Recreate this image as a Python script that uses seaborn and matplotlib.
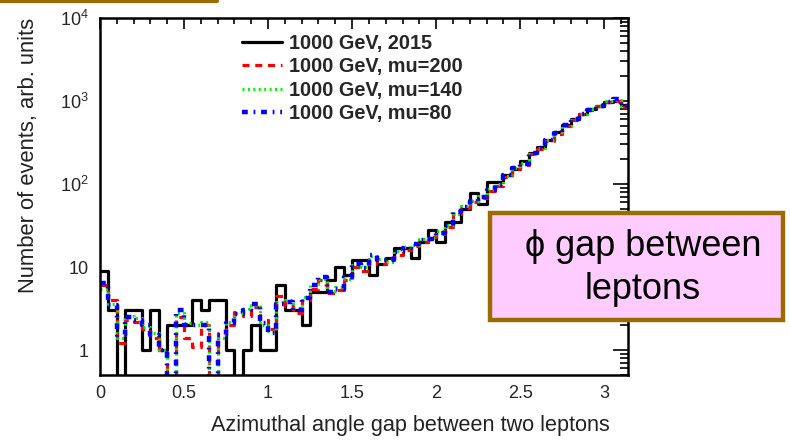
import numpy as np
import pandas as pd
import seaborn as sns
import matplotlib.pyplot as plt
from matplotlib.lines import Line2D
from matplotlib.patches import Rectangle
from matplotlib.ticker import FixedLocator, FixedFormatter, LogLocator, NullFormatter, MultipleLocator

# Histogram binning: 0.05 rad bins, axis shown up to pi
bin_edges = [round(0.05 * i, 2) for i in range(64)]
bin_centers = np.array(bin_edges[:-1]) + 0.025

# Event counts per bin (arb. units)
events_2015 = [9, 3, 0, 3, 3, 1, 3, 1, 2, 2,
               2, 4, 3, 4, 4, 1, 0, 1, 2, 1,
               1, 6, 3, 3, 2, 5, 5, 7, 10, 8,
               12, 12, 8, 11, 13, 17, 17, 13, 20, 28,
               20, 35, 35, 50, 77, 58, 107, 107, 130, 150,
               190, 235, 280, 340, 420, 520, 600, 700, 800, 880,
               960, 1000, 900]

events_mu200 = [6, 4, 1.2, 2.3, 2.2, 1.8, 1.4, 1.0, 0, 2.5,
                1.4, 1.1, 2.0, 0, 1.6, 2.0, 2.9, 2.6, 3.3, 2.3,
                1.8, 4.5, 3.4, 2.8, 4.0, 5.5, 7.0, 4.8, 5.3, 7.0,
                10, 9, 12.5, 11, 12.5, 14, 16, 18, 20, 23,
                25, 30, 43, 51, 60, 68, 82, 94, 122, 150,
                170, 230, 262, 330, 400, 495, 590, 690, 780, 860,
                960, 1000, 840]

events_mu140 = [5.5, 3.6, 1.4, 2.6, 2.4, 1.9, 1.6, 1.0, 0, 2.8,
                2.1, 2.0, 2.2, 0, 1.4, 2.2, 2.8, 3.1, 3.5, 2.0,
                1.7, 3.8, 4.0, 3.2, 4.4, 6.2, 7.2, 5.2, 5.8, 7.2,
                10.5, 10, 13.5, 12.5, 11.5, 15.5, 17.5, 18.5, 21.5, 22.5,
                27, 32, 44, 55, 63, 72, 87, 99, 125, 157,
                178, 232, 275, 335, 420, 505, 610, 705, 795, 870,
                990, 1030, 870]

events_mu80 = [6.5, 3.5, 1.5, 2.5, 2.3, 2.0, 1.5, 1.0, 0, 3.0,
               2.0, 2.0, 2.0, 0, 1.5, 2.1, 2.7, 3.0, 3.6, 2.1,
               1.6, 3.6, 3.8, 3.0, 4.2, 6.0, 7.5, 5.0, 5.5, 7.6,
               11, 9.6, 14, 12, 12, 15, 17, 19, 21, 22,
               26, 31, 46, 53, 62, 70, 85, 97, 128, 154,
               175, 238, 270, 340, 415, 510, 600, 700, 790, 880,
               980, 1050, 880]

series_labels = ["1000 GeV, 2015", "1000 GeV, mu=200", "1000 GeV, mu=140", "1000 GeV, mu=80"]
series_values = [events_2015, events_mu200, events_mu140, events_mu80]

x_ticks = [0, 0.5, 1, 1.5, 2, 2.5, 3]
x_ticklabels = ["0", "0.5", "1", "1.5", "2", "2.5", "3"]
y_ticks = [1, 10, 100, 1000, 10000]
y_ticklabels = ["1", "10", "$10^2$", "$10^3$", "$10^4$"]

styles = [
    dict(color="black", linestyle="-", linewidth=2.3),
    dict(color="#ff0000", linestyle=(0, (2.2, 1.8)), linewidth=2.3),
    dict(color="#00ee00", linestyle=(0, (0.6, 1.1)), linewidth=2.3),
    dict(color="#0000ff", linestyle=(0, (1.3, 1.3, 0.4, 1.3)), linewidth=3.2),
]

sns.set_style("white")
plt.rcParams["font.family"] = ["Liberation Sans", "DejaVu Sans"]
plt.rcParams["mathtext.fontset"] = "custom"
plt.rcParams["mathtext.rm"] = "Liberation Sans"
plt.rcParams["mathtext.it"] = "Liberation Sans:italic"

fig = plt.figure(figsize=(7.9, 4.41), dpi=100)
ax = fig.add_axes([100 / 790, 1 - 375 / 441, 528 / 790, 357 / 441])

df = pd.DataFrame({
    "phi": np.tile(bin_centers, len(series_values)),
    "events": np.concatenate([np.asarray(v, float) for v in series_values]),
    "sample": np.repeat(series_labels, len(bin_centers)),
})

for label, st in zip(series_labels, styles):
    sub = df[df["sample"] == label]
    sns.histplot(data=sub, x="phi", weights="events", bins=bin_edges,
                 element="step", fill=False, ax=ax, **st)

ax.set_yscale("log", nonpositive="clip")
ax.set_xlim(0, np.pi)
ax.set_ylim(0.5, 1e4)

ax.xaxis.set_major_locator(FixedLocator(x_ticks))
ax.xaxis.set_major_formatter(FixedFormatter(x_ticklabels))
ax.xaxis.set_minor_locator(MultipleLocator(0.1))
ax.yaxis.set_major_locator(FixedLocator(y_ticks))
ax.yaxis.set_major_formatter(FixedFormatter(y_ticklabels))
ax.yaxis.set_minor_locator(LogLocator(base=10, subs=np.arange(2, 10)))
ax.yaxis.set_minor_formatter(NullFormatter())

ax.tick_params(axis="both", which="both", direction="in", top=True, right=True,
               color="black", width=1.2)
ax.tick_params(axis="x", which="major", length=8, labelsize=13, pad=7)
ax.tick_params(axis="x", which="minor", length=4)
ax.tick_params(axis="y", which="major", length=11, labelsize=13, pad=8)
ax.tick_params(axis="y", which="minor", length=6)
for s in ax.spines.values():
    s.set_visible(True)
    s.set_color("black")
    s.set_linewidth(1.8)

ax.set_xlabel("Azimuthal angle gap between two leptons", fontsize=15.6, color="#222222")
ax.xaxis.set_label_coords(510 / 528, -50 / 357)
ax.xaxis.label.set_horizontalalignment("right")
ax.xaxis.label.set_verticalalignment("center")
ax.set_ylabel("Number of events, arb. units", fontsize=15.8, color="#222222")
ax.yaxis.set_label_coords(-71 / 528, 1.0)
ax.yaxis.label.set_horizontalalignment("right")
ax.yaxis.label.set_verticalalignment("center")

handles = [Line2D([], [], **st) for st in styles]
ax.legend(handles, series_labels, loc="upper left",
          bbox_to_anchor=(242 / 790, 1 - 34 / 441), bbox_transform=fig.transFigure,
          frameon=False, prop=dict(weight="bold", size=14.3),
          handlelength=2.0, handletextpad=0.38, labelspacing=0.22,
          borderpad=0, borderaxespad=0)

# Caption box
fig.patches.append(Rectangle((490 / 790, 1 - 320 / 441), 293 / 790, 107 / 441,
                             transform=fig.transFigure, facecolor="#ffccff",
                             edgecolor="#9c6b00", linewidth=3.2, zorder=5))
fig.text(643 / 790, 1 - 268 / 441, "\u03d5 gap between\nleptons", ha="center", va="center",
         fontsize=26, linespacing=1.3, color="black", zorder=6,
         family=["Liberation Sans", "DejaVu Sans"])

# Edge of a box above the frame
fig.add_artist(Line2D([0, 217 / 790], [1 - 1.2 / 441] * 2, transform=fig.transFigure,
                      color="#9c6b00", linewidth=3, solid_capstyle="round"))

fig.savefig("out.png", dpi=100)
